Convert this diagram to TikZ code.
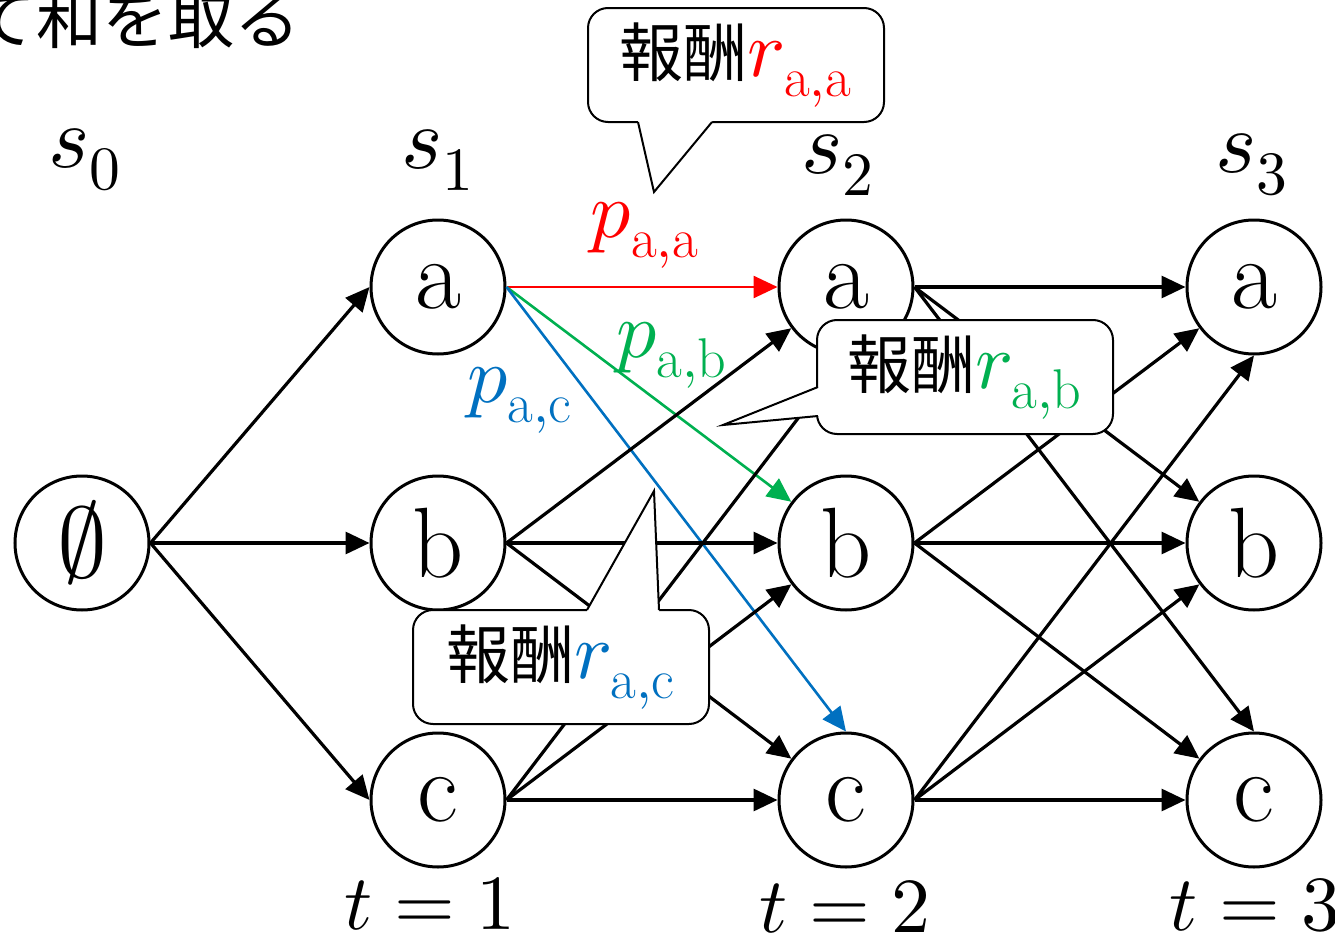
\documentclass[tikz,border=0pt]{standalone}
\usepackage{fontspec}
\usepackage{unicode-math}
\setmathfont{Latin Modern Math}
\newfontfamily\jpfont{Noto Sans CJK JP}
\usetikzlibrary{arrows.meta}
\definecolor{cred}{HTML}{FF0000}
\definecolor{cgreen}{HTML}{00B050}
\definecolor{cblue}{HTML}{0070C0}
\begin{document}
\begin{tikzpicture}[x=0.5pt,y=-0.5pt,
 st/.style={circle,draw,line width=1.5pt,minimum size=67pt,inner sep=0pt,fill=white,font=\fontsize{50}{54}\selectfont},
 arr/.style={line width=1.6pt,-{Triangle[length=12pt,width=11pt]}},
 carr/.style={line width=1.3pt,-{Triangle[length=12pt,width=11pt]}},
 cbox/.style={draw,line width=1pt,fill=white,rounded corners=10pt,inner sep=0pt,minimum width=148pt,minimum height=57pt},
 tail/.style={line width=1pt},
 lab/.style={inner sep=0pt,font=\fontsize{44}{50}\selectfont},
 tlab/.style={inner sep=0pt,anchor=base,font=\fontsize{39}{44}\selectfont},
 plab/.style={inner sep=0pt,font=\fontsize{40}{46}\selectfont},
 jp/.style={font=\jpfont\fontsize{33}{37}\selectfont}
]
\useasboundingbox (0,0) rectangle (1335,937);

% top-left partial text
\node[inner sep=0pt,jp] (top) at (136,19) {て和を取る};

% nodes
\node[st] (s0) at (82,543) {$\emptyset$};
\node[st] (a1) at (438,287) {a};
\node[st] (b1) at (438,543) {b};
\node[st] (c1) at (438,800) {c};
\node[st] (a2) at (846,287) {a};
\node[st] (b2) at (846,543) {b};
\node[st] (c2) at (846,800) {c};
\node[st] (a3) at (1254,287) {a};
\node[st] (b3) at (1254,543) {b};
\node[st] (c3) at (1254,800) {c};

% edges from s0
\draw[arr] (s0.east) -- (a1.west);
\draw[arr] (s0.east) -- (b1.west);
\draw[arr] (s0.east) -- (c1.west);

% edges s1 -> s2
\draw[carr,cred] (a1.east) -- (a2.west);
\draw[carr,cgreen] (a1.east) -- (b2);
\draw[carr,cblue] (a1.east) -- (c2.north);
\draw[arr] (b1.east) -- (a2);
\draw[arr] (b1.east) -- (b2.west);
\draw[arr] (b1.east) -- (c2);
\draw[arr] (c1.east) -- (a2.south);
\draw[arr] (c1.east) -- (b2);
\draw[arr] (c1.east) -- (c2.west);

% edges s2 -> s3
\draw[arr] (a2.east) -- (a3.west);
\draw[arr] (a2.east) -- (b3);
\draw[arr] (a2.east) -- (c3.north);
\draw[arr] (b2.east) -- (a3);
\draw[arr] (b2.east) -- (b3.west);
\draw[arr] (b2.east) -- (c3);
\draw[arr] (c2.east) -- (a3.south);
\draw[arr] (c2.east) -- (b3);
\draw[arr] (c2.east) -- (c3.west);

% state labels
\node[lab] (l0) at (85,160) {$s_0$};
\node[lab] (l1) at (438,160) {$s_1$};
\node[lab] (l2) at (838,165) {$s_2$};
\node[lab] (l3) at (1252,165) {$s_3$};
\node[tlab] (t1) at (430,929) {$t=1$};
\node[tlab] (t2) at (845,932) {$t=2$};
\node[tlab] (t3) at (1255,930) {$t=3$};

% probability labels
\node[plab,text=cred] (paa) at (645,235) {$p_{\mathrm{a,a}}$};
\node[plab,text=cgreen] (pab) at (672,355) {$p_{\mathrm{a,b}}$};
\node[plab,text=cblue] (pac) at (520,400) {$p_{\mathrm{a,c}}$};

% callout 1
\node[cbox] (k1) at (736,65) {{\jpfont\fontsize{32}{36}\selectfont 報酬}{\fontsize{40}{46}\selectfont\color{cred}$r_{\mathrm{a,a}}$}};
\fill[white] (638,117) -- (638,122) -- (654,192) -- (712,122) -- (712,117) -- cycle;
\draw[tail] (638,122) -- (654,192) -- (712,122);

% callout 2
\node[cbox] (k2) at (965,377) {{\jpfont\fontsize{32}{36}\selectfont 報酬}{\fontsize{40}{46}\selectfont\color{cgreen}$r_{\mathrm{a,b}}$}};
\fill[white] (823,387) -- (818,387) -- (723,425) -- (818,416) -- (823,416) -- cycle;
\draw[tail] (818,387) -- (723,425) -- (818,416);

% callout 3
\node[cbox] (k3) at (561,667) {{\jpfont\fontsize{32}{36}\selectfont 報酬}{\fontsize{40}{46}\selectfont\color{cblue}$r_{\mathrm{a,c}}$}};
\fill[white] (587,615) -- (587,610) -- (654,491) -- (659,610) -- (659,615) -- cycle;
\draw[tail] (587,610) -- (654,491) -- (659,610);
\end{tikzpicture}
\end{document}
